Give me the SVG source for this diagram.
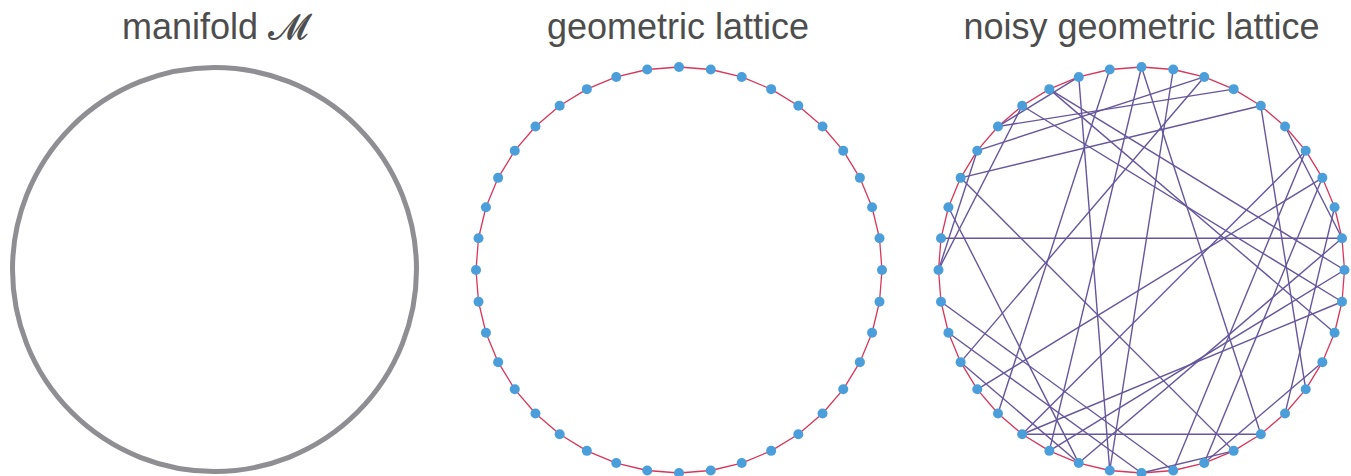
<svg xmlns="http://www.w3.org/2000/svg" width="1351" height="476" viewBox="0 0 1351 476">
<style>
.title{font-family:"Liberation Sans",Arial,sans-serif;font-size:36px;fill:#4d4d4d;text-anchor:middle}
.ring{fill:none;stroke:#d8365a;stroke-width:1.3;stroke-linejoin:round}
.chord{stroke:#66569c;stroke-width:1.4;fill:none}
.dot{fill:#4a9fdb}
</style>
<defs>
<polygon id="lattice" points="679,67 710.76,69.5 741.73,76.93 771.16,89.13 798.32,105.77 822.54,126.46 843.23,150.68 859.87,177.84 872.07,207.27 879.5,238.24 882,270 879.5,301.76 872.07,332.73 859.87,362.16 843.23,389.32 822.54,413.54 798.32,434.23 771.16,450.87 741.73,463.07 710.76,470.5 679,473 647.24,470.5 616.27,463.07 586.84,450.87 559.68,434.23 535.46,413.54 514.77,389.32 498.13,362.16 485.93,332.73 478.5,301.76 476,270 478.5,238.24 485.93,207.27 498.13,177.84 514.77,150.68 535.46,126.46 559.68,105.77 586.84,89.13 616.27,76.93 647.24,69.5"/>
<circle id="pt" r="5" class="dot"/>
</defs>
<text class="title" x="215" y="39">manifold <tspan font-family="DejaVu Sans,DejaVu Serif,serif">𝓜</tspan></text>
<text class="title" x="678" y="39">geometric lattice</text>
<text class="title" x="1141.5" y="39">noisy geometric lattice</text>
<g id="manifold"><circle cx="214.5" cy="269.5" r="202" fill="none" stroke="#8e8e93" stroke-width="5"/></g>
<g id="lattice-ring"><use href="#lattice" class="ring"/></g>
<g id="noisy-ring"><use href="#lattice" class="ring" transform="translate(462.5,0)"/></g>
<g id="connectors" class="chord">
<line x1="941" y1="238.24" x2="1342" y2="238.24"/>
<line x1="1022.18" y1="434.23" x2="1260.82" y2="434.23"/>
<line x1="997.96" y1="126.46" x2="1233.66" y2="89.13"/>
<line x1="977.27" y1="150.68" x2="1204.23" y2="76.93"/>
<line x1="960.63" y1="177.84" x2="1260.82" y2="105.77"/>
<line x1="1078.77" y1="76.93" x2="1109.74" y2="470.5"/>
<line x1="1173.26" y1="69.5" x2="1109.74" y2="470.5"/>
<line x1="1141.5" y1="67" x2="1260.82" y2="434.23"/>
<line x1="1141.5" y1="67" x2="1049.34" y2="450.87"/>
<line x1="1049.34" y1="89.13" x2="1344.5" y2="270"/>
<line x1="1049.34" y1="89.13" x2="1334.57" y2="332.73"/>
<line x1="1109.74" y1="69.5" x2="997.96" y2="413.54"/>
<line x1="1022.18" y1="434.23" x2="1342" y2="301.76"/>
<line x1="1260.82" y1="105.77" x2="1305.73" y2="389.32"/>
<line x1="1204.23" y1="76.93" x2="960.63" y2="362.16"/>
<line x1="977.27" y1="389.32" x2="1322.37" y2="177.84"/>
<line x1="941" y1="301.76" x2="1173.26" y2="470.5"/>
<line x1="960.63" y1="177.84" x2="1233.66" y2="450.87"/>
<line x1="1344.5" y1="270" x2="1049.34" y2="450.87"/>
<line x1="1173.26" y1="470.5" x2="1305.73" y2="150.68"/>
<line x1="1204.23" y1="463.07" x2="1322.37" y2="177.84"/>
<line x1="1141.5" y1="473" x2="1233.66" y2="450.87"/>
<line x1="1022.18" y1="105.77" x2="1342" y2="301.76"/>
<line x1="1078.77" y1="76.93" x2="997.96" y2="126.46"/>
<line x1="1285.04" y1="413.54" x2="1334.57" y2="207.27"/>
<line x1="1285.04" y1="126.46" x2="1342" y2="238.24"/>
<line x1="1305.73" y1="150.68" x2="1022.18" y2="434.23"/>
<line x1="1322.37" y1="362.16" x2="1204.23" y2="463.07"/>
<line x1="1078.77" y1="463.07" x2="1342" y2="238.24"/>
<line x1="938.5" y1="270" x2="1022.18" y2="105.77"/>
<line x1="938.5" y1="270" x2="977.27" y2="150.68"/>
<line x1="948.43" y1="207.27" x2="1078.77" y2="463.07"/>
<line x1="948.43" y1="332.73" x2="1141.5" y2="473"/>
<line x1="960.63" y1="362.16" x2="1078.77" y2="463.07"/>
</g>
<g id="lattice-nodes">
<g id="a0"><use href="#pt" x="679" y="67"/></g>
<g id="a1"><use href="#pt" x="710.76" y="69.5"/></g>
<g id="a2"><use href="#pt" x="741.73" y="76.93"/></g>
<g id="a3"><use href="#pt" x="771.16" y="89.13"/></g>
<g id="a4"><use href="#pt" x="798.32" y="105.77"/></g>
<g id="a5"><use href="#pt" x="822.54" y="126.46"/></g>
<g id="a6"><use href="#pt" x="843.23" y="150.68"/></g>
<g id="a7"><use href="#pt" x="859.87" y="177.84"/></g>
<g id="a8"><use href="#pt" x="872.07" y="207.27"/></g>
<g id="a9"><use href="#pt" x="879.5" y="238.24"/></g>
<g id="a10"><use href="#pt" x="882" y="270"/></g>
<g id="a11"><use href="#pt" x="879.5" y="301.76"/></g>
<g id="a12"><use href="#pt" x="872.07" y="332.73"/></g>
<g id="a13"><use href="#pt" x="859.87" y="362.16"/></g>
<g id="a14"><use href="#pt" x="843.23" y="389.32"/></g>
<g id="a15"><use href="#pt" x="822.54" y="413.54"/></g>
<g id="a16"><use href="#pt" x="798.32" y="434.23"/></g>
<g id="a17"><use href="#pt" x="771.16" y="450.87"/></g>
<g id="a18"><use href="#pt" x="741.73" y="463.07"/></g>
<g id="a19"><use href="#pt" x="710.76" y="470.5"/></g>
<g id="a20"><use href="#pt" x="679" y="473"/></g>
<g id="a21"><use href="#pt" x="647.24" y="470.5"/></g>
<g id="a22"><use href="#pt" x="616.27" y="463.07"/></g>
<g id="a23"><use href="#pt" x="586.84" y="450.87"/></g>
<g id="a24"><use href="#pt" x="559.68" y="434.23"/></g>
<g id="a25"><use href="#pt" x="535.46" y="413.54"/></g>
<g id="a26"><use href="#pt" x="514.77" y="389.32"/></g>
<g id="a27"><use href="#pt" x="498.13" y="362.16"/></g>
<g id="a28"><use href="#pt" x="485.93" y="332.73"/></g>
<g id="a29"><use href="#pt" x="478.5" y="301.76"/></g>
<g id="a30"><use href="#pt" x="476" y="270"/></g>
<g id="a31"><use href="#pt" x="478.5" y="238.24"/></g>
<g id="a32"><use href="#pt" x="485.93" y="207.27"/></g>
<g id="a33"><use href="#pt" x="498.13" y="177.84"/></g>
<g id="a34"><use href="#pt" x="514.77" y="150.68"/></g>
<g id="a35"><use href="#pt" x="535.46" y="126.46"/></g>
<g id="a36"><use href="#pt" x="559.68" y="105.77"/></g>
<g id="a37"><use href="#pt" x="586.84" y="89.13"/></g>
<g id="a38"><use href="#pt" x="616.27" y="76.93"/></g>
<g id="a39"><use href="#pt" x="647.24" y="69.5"/></g>
</g>
<g id="noisy-nodes" transform="translate(462.5,0)">
<g id="b0"><use href="#pt" x="679" y="67"/></g>
<g id="b1"><use href="#pt" x="710.76" y="69.5"/></g>
<g id="b2"><use href="#pt" x="741.73" y="76.93"/></g>
<g id="b3"><use href="#pt" x="771.16" y="89.13"/></g>
<g id="b4"><use href="#pt" x="798.32" y="105.77"/></g>
<g id="b5"><use href="#pt" x="822.54" y="126.46"/></g>
<g id="b6"><use href="#pt" x="843.23" y="150.68"/></g>
<g id="b7"><use href="#pt" x="859.87" y="177.84"/></g>
<g id="b8"><use href="#pt" x="872.07" y="207.27"/></g>
<g id="b9"><use href="#pt" x="879.5" y="238.24"/></g>
<g id="b10"><use href="#pt" x="882" y="270"/></g>
<g id="b11"><use href="#pt" x="879.5" y="301.76"/></g>
<g id="b12"><use href="#pt" x="872.07" y="332.73"/></g>
<g id="b13"><use href="#pt" x="859.87" y="362.16"/></g>
<g id="b14"><use href="#pt" x="843.23" y="389.32"/></g>
<g id="b15"><use href="#pt" x="822.54" y="413.54"/></g>
<g id="b16"><use href="#pt" x="798.32" y="434.23"/></g>
<g id="b17"><use href="#pt" x="771.16" y="450.87"/></g>
<g id="b18"><use href="#pt" x="741.73" y="463.07"/></g>
<g id="b19"><use href="#pt" x="710.76" y="470.5"/></g>
<g id="b20"><use href="#pt" x="679" y="473"/></g>
<g id="b21"><use href="#pt" x="647.24" y="470.5"/></g>
<g id="b22"><use href="#pt" x="616.27" y="463.07"/></g>
<g id="b23"><use href="#pt" x="586.84" y="450.87"/></g>
<g id="b24"><use href="#pt" x="559.68" y="434.23"/></g>
<g id="b25"><use href="#pt" x="535.46" y="413.54"/></g>
<g id="b26"><use href="#pt" x="514.77" y="389.32"/></g>
<g id="b27"><use href="#pt" x="498.13" y="362.16"/></g>
<g id="b28"><use href="#pt" x="485.93" y="332.73"/></g>
<g id="b29"><use href="#pt" x="478.5" y="301.76"/></g>
<g id="b30"><use href="#pt" x="476" y="270"/></g>
<g id="b31"><use href="#pt" x="478.5" y="238.24"/></g>
<g id="b32"><use href="#pt" x="485.93" y="207.27"/></g>
<g id="b33"><use href="#pt" x="498.13" y="177.84"/></g>
<g id="b34"><use href="#pt" x="514.77" y="150.68"/></g>
<g id="b35"><use href="#pt" x="535.46" y="126.46"/></g>
<g id="b36"><use href="#pt" x="559.68" y="105.77"/></g>
<g id="b37"><use href="#pt" x="586.84" y="89.13"/></g>
<g id="b38"><use href="#pt" x="616.27" y="76.93"/></g>
<g id="b39"><use href="#pt" x="647.24" y="69.5"/></g>
</g>
</svg>
